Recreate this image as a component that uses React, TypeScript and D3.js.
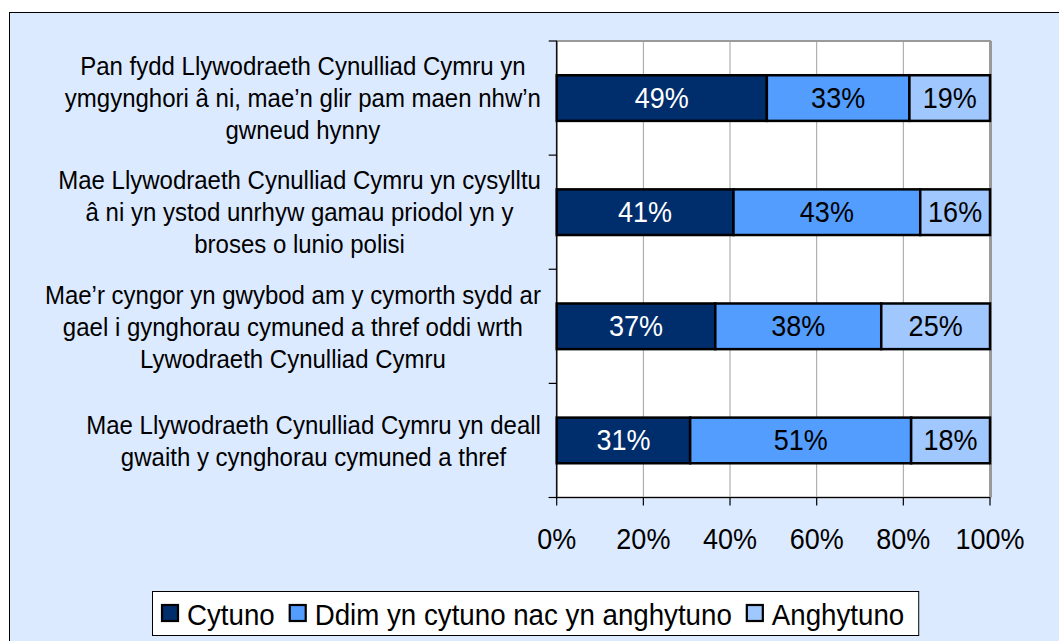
import React from "react";
import * as d3 from "d3";

const categories = [
  "Pan fydd Llywodraeth Cynulliad Cymru yn ymgynghori â ni, mae’n glir pam maen nhw’n gwneud hynny",
  "Mae Llywodraeth Cynulliad Cymru yn cysylltu â ni yn ystod unrhyw gamau priodol yn y broses o lunio polisi",
  "Mae’r cyngor yn gwybod am y cymorth sydd ar gael i gynghorau cymuned a thref oddi wrth Lywodraeth Cynulliad Cymru",
  "Mae Llywodraeth Cynulliad Cymru yn deall gwaith y cynghorau cymuned a thref",
];
const categoryLines = [
  ["Pan fydd Llywodraeth Cynulliad Cymru yn", "ymgynghori â ni, mae’n glir pam maen nhw’n", "gwneud hynny"],
  ["Mae Llywodraeth Cynulliad Cymru yn cysylltu", "â ni yn ystod unrhyw gamau priodol yn y", "broses o lunio polisi"],
  ["Mae’r cyngor yn gwybod am y cymorth sydd ar", "gael i gynghorau cymuned a thref oddi wrth", "Lywodraeth Cynulliad Cymru"],
  ["Mae Llywodraeth Cynulliad Cymru yn deall", "gwaith y cynghorau cymuned a thref"],
];
const seriesNames = ["Cytuno", "Ddim yn cytuno nac yn anghytuno", "Anghytuno"];
const cytuno = [48.5, 40.8, 36.6, 30.8];
const ddim = [32.9, 43.1, 38.3, 51.0];
const anghytuno = [18.6, 16.1, 25.2, 18.2];
const xTicks = [0, 20, 40, 60, 80, 100];
const colors = ["#002D6B", "#539DFF", "#A0C8FF"];
const labelColors = ["#FFFFFF", "#000000", "#000000"];

const FONT = "'Liberation Sans', Arial, sans-serif";
const SY = 1.07;

function measure(text: string, size: number): number {
  if (typeof document === "undefined") return text.length * size * 0.5;
  const c = (measure as any)._c || ((measure as any)._c = document.createElement("canvas"));
  const ctx = c.getContext("2d");
  ctx.font = `${size}px ${FONT}`;
  return ctx.measureText(text).width;
}

function T(props: { x: number; y: number; size: number; anchor?: string; fill?: string; children: any }) {
  const { x, y, size, anchor = "start", fill = "#000", children } = props;
  return (
    <text transform={`translate(${x},${y}) scale(1,${SY})`} textAnchor={anchor as any} fontSize={size} fill={fill}>
      {children}
    </text>
  );
}

export default function App() {
  const W = 1059, H = 641;
  const left = 556.7, right = 990, top = 41, bottom = 497.5;

  const rows = categories.map((c, i) => ({
    cat: c,
    [seriesNames[0]]: cytuno[i],
    [seriesNames[1]]: ddim[i],
    [seriesNames[2]]: anghytuno[i],
  }));
  const stack = d3.stack<any>().keys(seriesNames)(rows);

  const x = d3.scaleLinear().domain([0, 100]).range([left, right]);
  const y = d3.scaleBand<string>().domain(categories).range([top, bottom]).paddingInner(0.6).paddingOuter(0.3);
  const catTicks = d3.range(categories.length + 1).map((i) => top + ((bottom - top) * i) / categories.length);

  const catFont = 24;
  const lineH = 32;
  const labelRight = 541;

  // legend layout
  const legFont = 27.7;
  const legBase = 625;
  const legSqY = 604;
  let lx = 161;
  const legItems = seriesNames.map((n, i) => {
    const item = { n, i, sx: lx, tx: lx + 26 };
    lx = lx + 26 + measure(n, legFont) + 14;
    return item;
  });
  const legRight = lx;

  return (
    <svg width={W} height={H} style={{ position: "absolute", left: 0, top: 0, overflow: "hidden" }} fontFamily={FONT}>
      <rect x={0} y={0} width={W} height={H} fill="#FFFFFF" />
      <rect x={9.5} y={12.5} width={1100} height={700} fill="#DCEAFF" stroke="#000" strokeWidth={1} />
      {/* plot area */}
      <rect x={left} y={top} width={right - left} height={bottom - top} fill="#FFFFFF" stroke="#9A9A9A" strokeWidth={2} />
      <line x1={right + 1} x2={right + 1} y1={top} y2={bottom} stroke="#9A9A9A" strokeWidth={2} />
      {xTicks.slice(1, -1).map((t) => (
        <line key={t} x1={x(t)} x2={x(t)} y1={top} y2={bottom} stroke="#A0A0A0" strokeWidth={1} />
      ))}
      {/* bars */}
      {stack.map((s, si) =>
        s.map((d: any, i: number) => {
          const x0 = x(d[0]);
          const x1 = x(Math.min(d[1], 100));
          const yy = y(categories[i])!;
          const v = d[1] - d[0];
          return (
            <g key={`${si}-${i}`}>
              <rect x={x0} y={yy} width={x1 - x0} height={y.bandwidth()} fill={colors[si]} stroke="#000" strokeWidth={2.5} />
              <T x={(x0 + x1) / 2} y={yy + y.bandwidth() / 2 + 9.5} anchor="middle" size={27} fill={labelColors[si]}>
                {`${Math.round(v)}%`}
              </T>
            </g>
          );
        })
      )}
      {/* axes */}
      <line x1={left} x2={left} y1={top} y2={bottom} stroke="#000" strokeWidth={1.2} />
      {catTicks.map((t, i) => (
        <line key={i} x1={left - 8} x2={left} y1={t} y2={t} stroke="#000" strokeWidth={1.2} />
      ))}
      <line x1={left - 8} x2={right} y1={bottom} y2={bottom} stroke="#000" strokeWidth={1.2} />
      {xTicks.map((t) => (
        <g key={t}>
          <line x1={x(t)} x2={x(t)} y1={bottom} y2={bottom + 8} stroke="#000" strokeWidth={1.2} />
          <T x={x(t)} y={548.5} anchor="middle" size={27}>{`${t}%`}</T>
        </g>
      ))}
      {/* category labels */}
      {categories.map((c, i) => {
        const lines = categoryLines[i];
        const maxW = Math.max(...lines.map((l) => measure(l, catFont)));
        const cx = labelRight - maxW / 2;
        const cy = y(c)! + y.bandwidth() / 2;
        const start = cy - ((lines.length - 1) * lineH) / 2;
        return (
          <g key={c}>
            {lines.map((l, j) => (
              <T key={j} x={cx} y={start + j * lineH + 9.2} anchor="middle" size={catFont}>{l}</T>
            ))}
          </g>
        );
      })}
      {/* legend */}
      <rect x={152.5} y={591.5} width={legRight - 152} height={44} fill="#FFFFFF" stroke="#000" strokeWidth={1} />
      {legItems.map((it) => (
        <g key={it.n}>
          <rect x={it.sx + 1} y={legSqY + 1} width={16} height={16} fill={colors[it.i]} stroke="#000" strokeWidth={2.2} />
          <T x={it.tx} y={legBase} size={legFont}>{it.n}</T>
        </g>
      ))}
    </svg>
  );
}
